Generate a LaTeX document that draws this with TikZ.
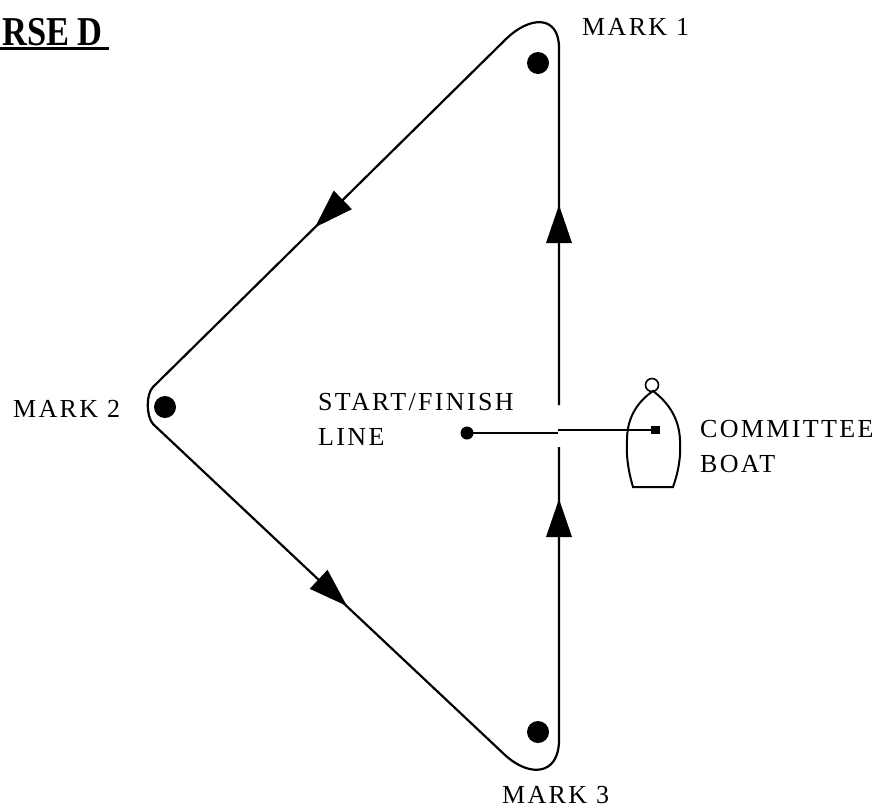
\documentclass[tikz,border=0pt]{standalone}
\usepackage{fontspec}
\usepackage{graphicx}
\newfontfamily\lab[LetterSpace=9]{Liberation Serif}
\newfontfamily\ttl{Liberation Serif}
\begin{document}
\begin{tikzpicture}[x=1pt,y=-1pt,
  course/.style={line width=2.2pt, line join=round},
  markdot/.style={circle, fill=black, inner sep=0pt, minimum size=22pt},
  lbl/.style={inner sep=0pt, font=\lab\fontsize{26}{35}\selectfont, anchor=base west},
  headtri/.style={fill=black},
  sfline/.style={line width=2.6pt},
  boatline/.style={line width=2pt}]
\useasboundingbox (0,0) rectangle (882,807);

% title
\node[inner sep=0pt, anchor=base west, font=\ttl\bfseries\fontsize{41}{41}\selectfont] (title) at (2,45) {\scalebox{0.84}[1]{RSE D}};
\draw[line width=3pt] (0,48.5) -- (109,48.5);

% marks
\node[markdot] (m1) at (538,63) {};
\node[markdot] (m2) at (165,407) {};
\node[markdot] (m3) at (538,732) {};
\node[lbl] (l1) at (582,35) {MARK 1};
\node[lbl] (l2) at (13,417) {MARK 2};
\node[lbl] (l3) at (502,803) {MARK 3};

% course
\draw[course] (559,405) -- (559,48) .. controls (559,15) and (530,15) .. (505,40)
  -- (153,387) .. controls (146,394) and (146,416) .. (153,424)
  -- (505,755) .. controls (530,778) and (559,775) .. (559,740) -- (559,447);

% arrowheads
\fill[headtri] (315,227.3) -- (351.9,209.2) -- (333.7,190.6) -- cycle;
\fill[headtri] (559,205) -- (572,243) -- (546,243) -- cycle;
\fill[headtri] (559,499) -- (572,537) -- (546,537) -- cycle;
\fill[headtri] (347,606) -- (309.7,588.8) -- (327.5,569.8) -- cycle;

% start / finish line
\node[circle, fill=black, inner sep=0pt, minimum size=13pt] (pin) at (467,433) {};
\node[rectangle, fill=black, inner sep=0pt, minimum width=9pt, minimum height=8pt] (bdot) at (655,430) {};
\coordinate (g1) at (558,433);
\coordinate (g2) at (558,430);
\draw[sfline] (pin.center) -- (g1);
\draw[sfline] (g2) -- (bdot.center);
\node[lbl] (sf1) at (318,410) {START/FINISH};
\node[lbl] (sf2) at (318,445) {LINE};

% committee boat
\draw[boatline] (633,487) -- (673,487) .. controls (679,470) and (681,455) .. (680,440)
  .. controls (679,415) and (665,400) .. (653,391)
  .. controls (640,400) and (627,415) .. (627,440)
  .. controls (626,455) and (628,470) .. (633,487) -- cycle;
\draw[line width=1.6pt] (652,385) circle[radius=6.5];
\node[lbl] (cb1) at (700,437) {COMMITTEE};
\node[lbl] (cb2) at (700,472) {BOAT};
\end{tikzpicture}
\end{document}
